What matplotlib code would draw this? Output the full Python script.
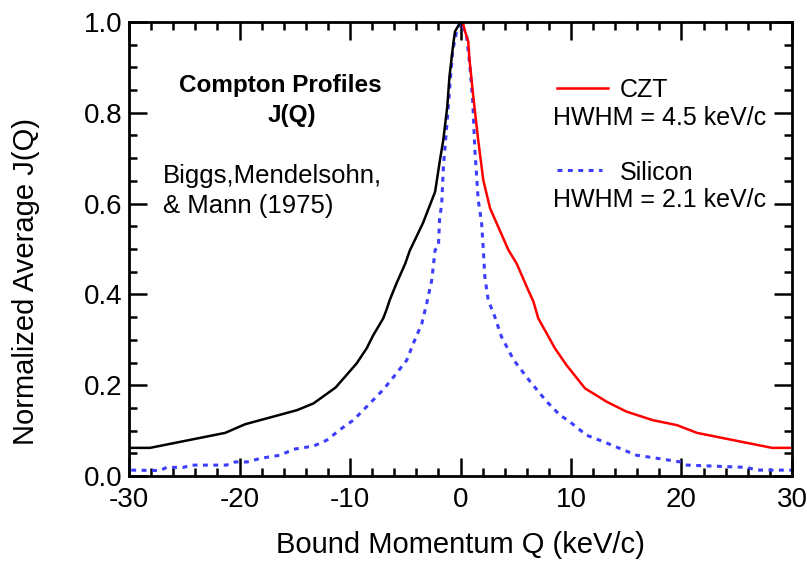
import matplotlib
matplotlib.use('Agg')
import matplotlib.pyplot as plt
from matplotlib.ticker import MultipleLocator, FormatStrFormatter

plt.rcParams['font.family'] = ['Liberation Sans', 'DejaVu Sans']
plt.rcParams['axes.unicode_minus'] = False

# CZT profile, negative side (black) and positive side (red)
czt_neg_q = [-30, -28.1, -21.3, -19.5, -14.8, -13.3, -11.3, -9.4, -8.5, -7.9, -7.0,
             -6.7, -6.4, -5.8, -5.0, -4.6, -3.4, -2.3, -1.86, -1.56, -1.2, -1.0,
             -0.65, -0.5, 0.0]
czt_neg_j = [0.062, 0.062, 0.095, 0.114, 0.145, 0.160, 0.195, 0.248, 0.281, 0.310, 0.347,
             0.366, 0.388, 0.424, 0.468, 0.496, 0.557, 0.626, 0.696, 0.740, 0.813, 0.880,
             0.953, 0.979, 1.0]
czt_pos_q = [0.2, 0.4, 0.7, 0.8, 1.16, 1.6, 2.06, 2.67, 4.33, 5.08, 5.99, 6.6, 7.04,
             7.8, 8.55, 9.6, 11.27, 13.2, 15.0, 17.4, 19.6, 21.4, 25.3, 28.2, 30]
czt_pos_j = [1.0, 0.98, 0.957, 0.92, 0.835, 0.74, 0.652, 0.59, 0.498, 0.468, 0.417, 0.384, 0.347,
             0.314, 0.281, 0.244, 0.193, 0.164, 0.142, 0.123, 0.112, 0.095, 0.076, 0.062, 0.062]

# Silicon profile
si_q = [-29.8, -27.2, -26.6, -25.1, -24.3, -21.2, -20.4, -19.3, -18.1, -16.3, -15.1,
        -13.3, -12.1, -10.75, -9.7, -8.2, -7.0, -5.8, -4.87, -4.27, -3.5, -3.06, -2.6,
        -2.3, -2.0, -1.9, -1.7, -1.55, -1.25, -0.95, -0.7, -0.35, 0.0,
        0.1, 0.56, 0.86, 1.1, 1.3, 1.6, 1.9, 2.06, 2.2, 2.5, 3.1, 3.7, 4.8, 6.3,
        7.8, 9.0, 9.76, 11.4, 13.2, 14.4, 15.9, 17.8, 19.9, 20.5, 25.9, 26.8, 30]
si_j = [0.013, 0.012, 0.019, 0.019, 0.024, 0.024, 0.031, 0.031, 0.039, 0.046, 0.059,
        0.066, 0.079, 0.105, 0.123, 0.160, 0.190, 0.226, 0.255, 0.292, 0.336, 0.380, 0.432,
        0.498, 0.505, 0.564, 0.600, 0.681, 0.769, 0.865, 0.938, 0.979, 1.0,
        0.997, 0.968, 0.900, 0.828, 0.718, 0.608, 0.560, 0.500, 0.439, 0.388, 0.351, 0.307, 0.256, 0.208,
        0.164, 0.134, 0.122, 0.090, 0.073, 0.061, 0.046, 0.039, 0.031, 0.024, 0.019, 0.013, 0.013]

BLUE = '#3d3dff'
DOTS = (0, (1.6, 1.8))

fig = plt.figure(figsize=(8.07, 5.63), dpi=100)
ax = fig.add_axes([0.1599, 0.1545, 0.8215, 0.8065])

ax.plot(si_q, si_j, color=BLUE, lw=2.2, linestyle=DOTS)
ax.plot(czt_neg_q, czt_neg_j, color='black', lw=1.8)
ax.plot(czt_pos_q, czt_pos_j, color='red', lw=1.8)

ax.set_xlim(-30, 30)
ax.set_ylim(0, 1.0)
ax.xaxis.set_major_locator(MultipleLocator(10))
ax.xaxis.set_minor_locator(MultipleLocator(2))
ax.yaxis.set_major_locator(MultipleLocator(0.2))
ax.yaxis.set_minor_locator(MultipleLocator(0.05))
ax.yaxis.set_major_formatter(FormatStrFormatter('%.1f'))

ax.tick_params(which='both', direction='in', top=True, right=True, width=1.8, labelsize=20)
ax.tick_params(which='major', length=13, pad=5)
ax.tick_params(axis='x', which='major', pad=8)
ax.tick_params(which='minor', length=6)
for s in ax.spines.values():
    s.set_linewidth(2)

ax.set_xlabel('Bound Momentum Q (keV/c)', fontsize=21)
ax.set_ylabel('Normalized Average J(Q)', fontsize=21)
ax.xaxis.set_label_coords(0.5, -0.121)
ax.yaxis.set_label_coords(-0.134, 0.428)

# annotations
ax.text(-16.3, 0.846, 'Compton Profiles', fontsize=17.5, fontweight='bold',
        ha='center', va='baseline')
ax.text(-15.3, 0.780, 'J(Q)', fontsize=17.5, fontweight='bold',
        ha='center', va='baseline')
ax.text(-26.9, 0.645, 'Biggs,Mendelsohn,', fontsize=18.5, ha='left', va='baseline')
ax.text(-26.9, 0.579, '& Mann (1975)', fontsize=18.5, ha='left', va='baseline')

# hand-made legend
ax.plot([8.7, 13.35], [0.855, 0.855], color='red', lw=1.8)
ax.plot([8.7, 12.8], [0.674, 0.674], color=BLUE, lw=2.2, linestyle=DOTS)
ax.text(14.4, 0.835, 'CZT', fontsize=18, ha='left', va='baseline')
ax.text(8.4, 0.773, 'HWHM = 4.5 keV/c', fontsize=18, ha='left', va='baseline')
ax.text(14.4, 0.652, 'Silicon', fontsize=18, ha='left', va='baseline')
ax.text(8.4, 0.593, 'HWHM = 2.1 keV/c', fontsize=18, ha='left', va='baseline')

fig.savefig('out.png', dpi=100)
